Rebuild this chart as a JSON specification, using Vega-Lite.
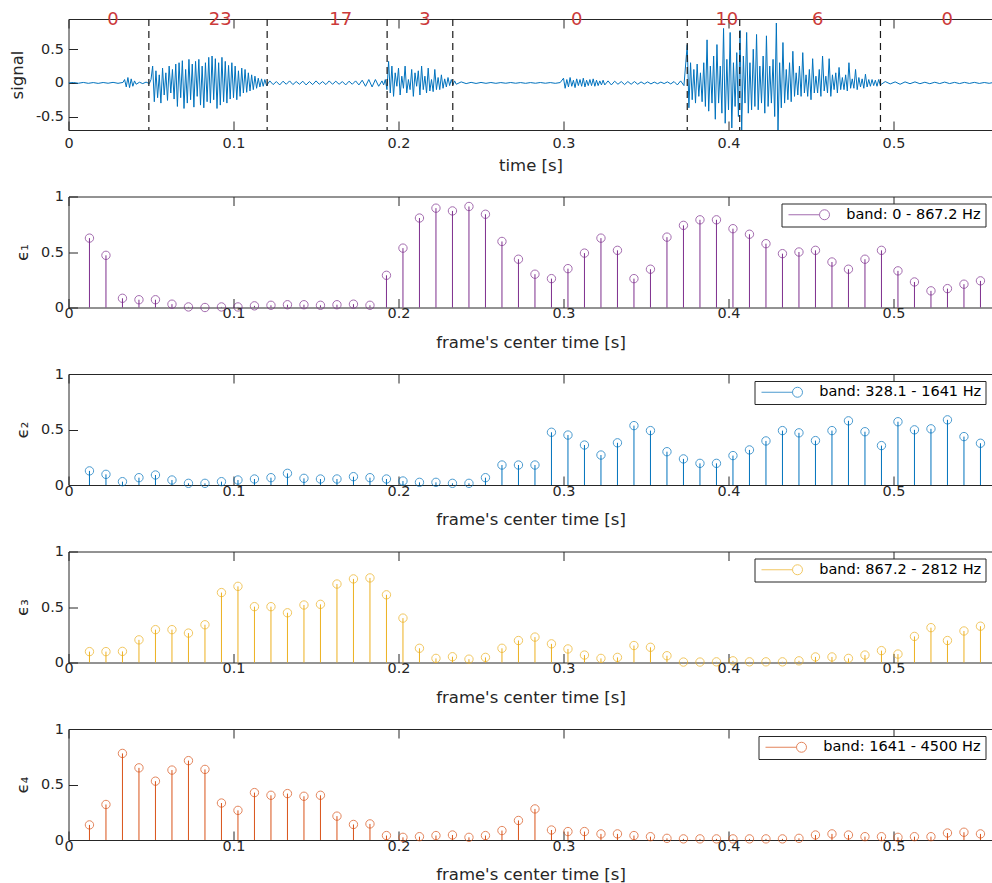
{
"$schema": "https://vega.github.io/schema/vega-lite/v6.json",
"padding": {"left": 8.5, "top": 10, "right": 0, "bottom": 0},
"config": {
 "font": "DejaVu Sans",
 "view": {"stroke": "#262626", "strokeWidth": 1},
 "axis": {"domain": false, "grid": false, "tickSize": -9, "tickColor": "#262626", "tickWidth": 1, "labelColor": "#262626", "labelFontSize": 14.4, "titleFontSize": 16.5, "titleFontWeight": "normal", "titleColor": "#262626", "labelPadding": 14, "labelFont": "DejaVu Sans", "titleFont": "DejaVu Sans"},
 "axisX": {"labelFlush": false},
 "legend": {"labelFont": "DejaVu Sans"}
},
"datasets": {
 "sig": [
{"t":0.000,"v":0.000},{"t":0.003,"v":0.006},{"t":0.006,"v":-0.005},{"t":0.009,"v":0.007},{"t":0.012,"v":-0.006},{"t":0.015,"v":0.005},{"t":0.018,"v":-0.007},{"t":0.021,"v":0.006},{"t":0.024,"v":-0.005},{"t":0.027,"v":0.008},{"t":0.030,"v":-0.006},{"t":0.033,"v":0.007},
{"t":0.034,"v":0.05},{"t":0.035,"v":-0.06},{"t":0.036,"v":0.08},{"t":0.037,"v":-0.07},{"t":0.038,"v":0.06},{"t":0.039,"v":-0.05},{"t":0.040,"v":0.03},{"t":0.041,"v":-0.02},
{"t":0.043,"v":0.01},{"t":0.045,"v":-0.01},{"t":0.047,"v":0.012},{"t":0.049,"v":-0.01},
{"t":0.050,"v":0.05},{"t":0.051,"v":0.25},{"t":0.052,"v":-0.28},{"t":0.053,"v":0.18},{"t":0.054,"v":-0.22},{"t":0.055,"v":0.12},{"t":0.056,"v":-0.30},{"t":0.057,"v":0.22},{"t":0.058,"v":-0.18},{"t":0.059,"v":0.15},
{"t":0.060,"v":-0.26},{"t":0.061,"v":0.25},{"t":0.062,"v":-0.15},{"t":0.063,"v":0.20},{"t":0.064,"v":-0.24},{"t":0.065,"v":0.28},{"t":0.066,"v":-0.35},{"t":0.067,"v":0.30},{"t":0.068,"v":-0.22},{"t":0.069,"v":0.33},
{"t":0.070,"v":-0.38},{"t":0.071,"v":0.20},{"t":0.072,"v":-0.30},{"t":0.073,"v":0.35},{"t":0.074,"v":-0.25},{"t":0.075,"v":0.28},{"t":0.076,"v":-0.36},{"t":0.077,"v":0.32},{"t":0.078,"v":-0.20},{"t":0.079,"v":0.35},
{"t":0.080,"v":-0.33},{"t":0.081,"v":0.25},{"t":0.082,"v":-0.37},{"t":0.083,"v":0.30},{"t":0.084,"v":-0.28},{"t":0.085,"v":0.38},{"t":0.086,"v":-0.30},{"t":0.087,"v":0.40},{"t":0.088,"v":-0.25},{"t":0.089,"v":0.36},
{"t":0.090,"v":-0.38},{"t":0.091,"v":0.30},{"t":0.092,"v":-0.33},{"t":0.093,"v":0.38},{"t":0.094,"v":-0.28},{"t":0.095,"v":0.32},{"t":0.096,"v":-0.30},{"t":0.097,"v":0.26},{"t":0.098,"v":-0.24},{"t":0.099,"v":0.30},
{"t":0.100,"v":-0.22},{"t":0.101,"v":0.25},{"t":0.102,"v":-0.25},{"t":0.103,"v":0.18},{"t":0.104,"v":-0.20},{"t":0.105,"v":0.22},{"t":0.106,"v":-0.15},{"t":0.107,"v":0.20},{"t":0.108,"v":-0.14},{"t":0.109,"v":0.15},
{"t":0.110,"v":-0.12},{"t":0.111,"v":0.12},{"t":0.112,"v":-0.10},{"t":0.113,"v":0.10},{"t":0.114,"v":-0.08},{"t":0.115,"v":0.07},{"t":0.116,"v":-0.06},{"t":0.117,"v":0.06},{"t":0.118,"v":-0.05},{"t":0.119,"v":0.05},{"t":0.120,"v":-0.04},
{"t":0.122,"v":0.03},{"t":0.124,"v":-0.025},{"t":0.126,"v":0.02},{"t":0.128,"v":-0.03},{"t":0.130,"v":0.025},{"t":0.132,"v":-0.02},{"t":0.134,"v":0.03},{"t":0.136,"v":-0.025},{"t":0.138,"v":0.02},{"t":0.140,"v":-0.02},
{"t":0.142,"v":0.025},{"t":0.144,"v":-0.03},{"t":0.146,"v":0.02},{"t":0.148,"v":-0.025},{"t":0.150,"v":0.03},{"t":0.152,"v":-0.02},{"t":0.154,"v":0.02},{"t":0.156,"v":-0.025},{"t":0.158,"v":0.03},{"t":0.160,"v":-0.02},
{"t":0.162,"v":0.025},{"t":0.164,"v":-0.02},{"t":0.166,"v":0.02},{"t":0.168,"v":-0.03},{"t":0.170,"v":0.025},{"t":0.172,"v":-0.02},{"t":0.174,"v":0.03},{"t":0.176,"v":-0.03},{"t":0.178,"v":0.04},{"t":0.180,"v":-0.05},
{"t":0.182,"v":0.05},{"t":0.184,"v":-0.06},{"t":0.186,"v":0.05},{"t":0.188,"v":-0.05},{"t":0.190,"v":0.03},
{"t":0.191,"v":-0.03},{"t":0.192,"v":0.05},{"t":0.193,"v":-0.10},{"t":0.194,"v":0.32},{"t":0.195,"v":-0.15},{"t":0.196,"v":0.25},{"t":0.197,"v":-0.20},{"t":0.198,"v":0.15},{"t":0.199,"v":-0.05},
{"t":0.200,"v":0.22},{"t":0.201,"v":-0.18},{"t":0.202,"v":0.10},{"t":0.203,"v":-0.08},{"t":0.204,"v":0.25},{"t":0.205,"v":-0.15},{"t":0.206,"v":0.05},{"t":0.207,"v":-0.10},{"t":0.208,"v":0.20},{"t":0.209,"v":-0.20},
{"t":0.210,"v":0.15},{"t":0.211,"v":-0.05},{"t":0.212,"v":0.18},{"t":0.213,"v":-0.18},{"t":0.214,"v":0.25},{"t":0.215,"v":-0.10},{"t":0.216,"v":0.10},{"t":0.217,"v":-0.15},{"t":0.218,"v":0.22},{"t":0.219,"v":-0.12},
{"t":0.220,"v":0.05},{"t":0.221,"v":-0.13},{"t":0.222,"v":0.20},{"t":0.223,"v":-0.10},{"t":0.224,"v":0.08},{"t":0.225,"v":-0.10},{"t":0.226,"v":0.12},{"t":0.227,"v":-0.08},{"t":0.228,"v":0.06},{"t":0.229,"v":-0.06},
{"t":0.230,"v":0.08},{"t":0.231,"v":-0.04},{"t":0.232,"v":0.05},{"t":0.233,"v":-0.03},{"t":0.234,"v":0.03},{"t":0.235,"v":-0.02},
{"t":0.238,"v":0.015},{"t":0.241,"v":-0.01},{"t":0.244,"v":0.008},{"t":0.247,"v":-0.008},{"t":0.250,"v":0.007},{"t":0.253,"v":-0.006},{"t":0.256,"v":0.006},{"t":0.259,"v":-0.006},{"t":0.262,"v":0.005},{"t":0.265,"v":-0.005},
{"t":0.268,"v":0.006},{"t":0.271,"v":-0.005},{"t":0.274,"v":0.005},{"t":0.277,"v":-0.006},{"t":0.280,"v":0.005},{"t":0.283,"v":-0.005},{"t":0.286,"v":0.006},{"t":0.289,"v":-0.005},{"t":0.292,"v":0.005},{"t":0.295,"v":-0.006},{"t":0.298,"v":0.005},
{"t":0.300,"v":0.07},{"t":0.301,"v":-0.08},{"t":0.302,"v":0.05},{"t":0.303,"v":-0.06},{"t":0.304,"v":0.08},{"t":0.305,"v":-0.05},{"t":0.306,"v":0.04},{"t":0.307,"v":-0.07},{"t":0.308,"v":0.06},{"t":0.309,"v":-0.04},
{"t":0.310,"v":0.05},{"t":0.311,"v":-0.05},{"t":0.312,"v":0.07},{"t":0.313,"v":-0.06},{"t":0.314,"v":0.04},{"t":0.315,"v":-0.04},{"t":0.316,"v":0.05},{"t":0.317,"v":-0.04},{"t":0.318,"v":0.06},{"t":0.319,"v":-0.05},
{"t":0.320,"v":0.04},{"t":0.321,"v":-0.04},{"t":0.322,"v":0.03},{"t":0.323,"v":-0.03},{"t":0.324,"v":0.04},{"t":0.325,"v":-0.03},
{"t":0.327,"v":0.03},{"t":0.329,"v":-0.03},{"t":0.331,"v":0.025},{"t":0.333,"v":-0.02},{"t":0.335,"v":0.02},{"t":0.337,"v":-0.025},{"t":0.339,"v":0.02},{"t":0.341,"v":-0.02},{"t":0.343,"v":0.02},{"t":0.345,"v":-0.02},
{"t":0.347,"v":0.015},{"t":0.349,"v":-0.015},{"t":0.351,"v":0.015},{"t":0.353,"v":-0.015},{"t":0.355,"v":0.012},{"t":0.357,"v":-0.012},{"t":0.359,"v":0.012},{"t":0.361,"v":-0.01},{"t":0.363,"v":0.015},{"t":0.365,"v":-0.015},
{"t":0.367,"v":0.02},{"t":0.369,"v":-0.03},{"t":0.371,"v":0.03},{"t":0.373,"v":-0.04},
{"t":0.375,"v":0.57},{"t":0.376,"v":-0.37},{"t":0.377,"v":0.30},{"t":0.378,"v":-0.25},{"t":0.379,"v":0.20},{"t":0.380,"v":-0.30},{"t":0.381,"v":0.28},{"t":0.382,"v":-0.20},{"t":0.383,"v":0.15},{"t":0.384,"v":-0.28},
{"t":0.385,"v":0.30},{"t":0.386,"v":-0.35},{"t":0.387,"v":0.64},{"t":0.388,"v":-0.42},{"t":0.389,"v":0.25},{"t":0.390,"v":-0.30},{"t":0.391,"v":0.40},{"t":0.392,"v":-0.54},{"t":0.393,"v":0.57},{"t":0.394,"v":-0.30},
{"t":0.395,"v":0.25},{"t":0.396,"v":-0.45},{"t":0.397,"v":0.81},{"t":0.398,"v":-0.60},{"t":0.399,"v":0.35},{"t":0.400,"v":-0.40},{"t":0.401,"v":0.75},{"t":0.402,"v":-0.67},{"t":0.403,"v":0.30},{"t":0.404,"v":-0.35},
{"t":0.405,"v":0.45},{"t":0.406,"v":-0.50},{"t":0.407,"v":0.78},{"t":0.408,"v":-0.70},{"t":0.409,"v":0.40},{"t":0.410,"v":-0.30},{"t":0.411,"v":0.75},{"t":0.412,"v":-0.45},{"t":0.413,"v":0.30},{"t":0.414,"v":-0.40},
{"t":0.415,"v":0.50},{"t":0.416,"v":-0.35},{"t":0.417,"v":0.72},{"t":0.418,"v":-0.40},{"t":0.419,"v":0.25},{"t":0.420,"v":-0.30},{"t":0.421,"v":0.40},{"t":0.422,"v":-0.45},{"t":0.423,"v":0.70},{"t":0.424,"v":-0.35},
{"t":0.425,"v":0.25},{"t":0.426,"v":-0.30},{"t":0.427,"v":0.35},{"t":0.428,"v":-0.50},{"t":0.429,"v":0.89},{"t":0.430,"v":-0.70},{"t":0.431,"v":0.30},{"t":0.432,"v":-0.37},{"t":0.433,"v":0.60},{"t":0.434,"v":-0.30},
{"t":0.435,"v":0.20},{"t":0.436,"v":-0.25},{"t":0.437,"v":0.30},{"t":0.438,"v":-0.28},{"t":0.439,"v":0.47},{"t":0.440,"v":-0.20},{"t":0.441,"v":0.15},{"t":0.442,"v":-0.18},{"t":0.443,"v":0.25},{"t":0.444,"v":-0.20},
{"t":0.445,"v":0.45},{"t":0.446,"v":-0.15},{"t":0.447,"v":0.12},{"t":0.448,"v":-0.20},{"t":0.449,"v":0.20},{"t":0.450,"v":-0.25},{"t":0.451,"v":0.36},{"t":0.452,"v":-0.15},{"t":0.453,"v":0.10},{"t":0.454,"v":-0.15},
{"t":0.455,"v":0.20},{"t":0.456,"v":-0.20},{"t":0.457,"v":0.40},{"t":0.458,"v":-0.12},{"t":0.459,"v":0.10},{"t":0.460,"v":-0.15},{"t":0.461,"v":0.36},{"t":0.462,"v":-0.20},{"t":0.463,"v":0.12},{"t":0.464,"v":-0.10},
{"t":0.465,"v":0.15},{"t":0.466,"v":-0.15},{"t":0.467,"v":0.23},{"t":0.468,"v":-0.10},{"t":0.469,"v":0.08},{"t":0.470,"v":-0.10},{"t":0.471,"v":0.12},{"t":0.472,"v":-0.12},{"t":0.473,"v":0.30},{"t":0.474,"v":-0.08},
{"t":0.475,"v":0.06},{"t":0.476,"v":-0.08},{"t":0.477,"v":0.20},{"t":0.478,"v":-0.10},{"t":0.479,"v":0.08},{"t":0.480,"v":-0.06},{"t":0.481,"v":0.06},{"t":0.482,"v":-0.08},{"t":0.483,"v":0.13},{"t":0.484,"v":-0.06},
{"t":0.485,"v":0.05},{"t":0.486,"v":-0.05},{"t":0.487,"v":0.05},{"t":0.488,"v":-0.04},{"t":0.489,"v":0.04},{"t":0.490,"v":-0.05},{"t":0.491,"v":0.05},{"t":0.492,"v":-0.03},
{"t":0.495,"v":0.02},{"t":0.498,"v":-0.015},{"t":0.501,"v":0.015},{"t":0.504,"v":-0.02},{"t":0.507,"v":0.015},{"t":0.510,"v":-0.012},{"t":0.513,"v":0.015},{"t":0.516,"v":-0.012},{"t":0.519,"v":0.01},{"t":0.522,"v":-0.012},
{"t":0.525,"v":0.01},{"t":0.528,"v":-0.01},{"t":0.531,"v":0.012},{"t":0.534,"v":-0.01},{"t":0.537,"v":0.008},{"t":0.540,"v":-0.01},{"t":0.543,"v":0.008},{"t":0.546,"v":-0.008},{"t":0.549,"v":0.008},{"t":0.552,"v":-0.008},{"t":0.555,"v":0.006},{"t":0.558,"v":-0.006},{"t":0.560,"v":0.004}
 ],
 "bounds": [{"x":0.0487},{"x":0.1204},{"x":0.1931},{"x":0.2329},{"x":0.375},{"x":0.4068},{"x":0.4921}],
 "segs": [{"x":0.027,"n":"0"},{"x":0.092,"n":"23"},{"x":0.165,"n":"17"},{"x":0.216,"n":"3"},{"x":0.308,"n":"0"},{"x":0.399,"n":"10"},{"x":0.454,"n":"6"},{"x":0.5325,"n":"0"}],
 "stems": [
{"t":0.0127,"a":0.625,"b":0.127,"c":0.098,"d":0.136},
{"t":0.0227,"a":0.47,"b":0.096,"c":0.098,"d":0.32},
{"t":0.0327,"a":0.083,"b":0.03,"c":0.10,"d":0.78},
{"t":0.0427,"a":0.07,"b":0.066,"c":0.204,"d":0.65},
{"t":0.0527,"a":0.07,"b":0.09,"c":0.296,"d":0.53},
{"t":0.0627,"a":0.03,"b":0.045,"c":0.296,"d":0.63},
{"t":0.0727,"a":0.005,"b":0.015,"c":0.265,"d":0.715},
{"t":0.0827,"a":0.0,"b":0.015,"c":0.34,"d":0.636},
{"t":0.0927,"a":0.005,"b":0.03,"c":0.63,"d":0.333},
{"t":0.1027,"a":0.005,"b":0.045,"c":0.686,"d":0.267},
{"t":0.1127,"a":0.015,"b":0.054,"c":0.503,"d":0.427},
{"t":0.1227,"a":0.02,"b":0.066,"c":0.503,"d":0.403},
{"t":0.1327,"a":0.025,"b":0.105,"c":0.448,"d":0.418},
{"t":0.1427,"a":0.025,"b":0.06,"c":0.518,"d":0.394},
{"t":0.1527,"a":0.02,"b":0.054,"c":0.524,"d":0.403},
{"t":0.1627,"a":0.025,"b":0.054,"c":0.707,"d":0.215},
{"t":0.1727,"a":0.03,"b":0.075,"c":0.753,"d":0.14},
{"t":0.1827,"a":0.02,"b":0.066,"c":0.762,"d":0.145},
{"t":0.1927,"a":0.29,"b":0.054,"c":0.61,"d":0.04},
{"t":0.2027,"a":0.535,"b":0.036,"c":0.40,"d":0.024},
{"t":0.2127,"a":0.806,"b":0.024,"c":0.128,"d":0.03},
{"t":0.2227,"a":0.895,"b":0.024,"c":0.037,"d":0.04},
{"t":0.2327,"a":0.87,"b":0.015,"c":0.052,"d":0.045},
{"t":0.2427,"a":0.91,"b":0.015,"c":0.03,"d":0.024},
{"t":0.2527,"a":0.84,"b":0.066,"c":0.046,"d":0.04},
{"t":0.2627,"a":0.595,"b":0.18,"c":0.128,"d":0.085},
{"t":0.2727,"a":0.435,"b":0.18,"c":0.198,"d":0.176},
{"t":0.2827,"a":0.30,"b":0.18,"c":0.229,"d":0.28},
{"t":0.2927,"a":0.26,"b":0.475,"c":0.168,"d":0.09},
{"t":0.3027,"a":0.35,"b":0.45,"c":0.122,"d":0.076},
{"t":0.3127,"a":0.49,"b":0.36,"c":0.067,"d":0.076},
{"t":0.3227,"a":0.625,"b":0.27,"c":0.037,"d":0.055},
{"t":0.3327,"a":0.515,"b":0.38,"c":0.046,"d":0.055},
{"t":0.3427,"a":0.26,"b":0.535,"c":0.153,"d":0.04},
{"t":0.3527,"a":0.345,"b":0.49,"c":0.137,"d":0.03},
{"t":0.3627,"a":0.634,"b":0.30,"c":0.061,"d":0.015},
{"t":0.3727,"a":0.74,"b":0.235,"c":0.004,"d":0.01},
{"t":0.3827,"a":0.79,"b":0.195,"c":0.004,"d":0.01},
{"t":0.3927,"a":0.79,"b":0.195,"c":0.006,"d":0.01},
{"t":0.4027,"a":0.71,"b":0.265,"c":0.015,"d":0.01},
{"t":0.4127,"a":0.66,"b":0.316,"c":0.006,"d":0.01},
{"t":0.4227,"a":0.575,"b":0.397,"c":0.006,"d":0.01},
{"t":0.4327,"a":0.485,"b":0.49,"c":0.006,"d":0.01},
{"t":0.4427,"a":0.50,"b":0.47,"c":0.015,"d":0.015},
{"t":0.4527,"a":0.515,"b":0.40,"c":0.05,"d":0.045},
{"t":0.4627,"a":0.41,"b":0.49,"c":0.05,"d":0.055},
{"t":0.4727,"a":0.345,"b":0.578,"c":0.037,"d":0.045},
{"t":0.4827,"a":0.435,"b":0.48,"c":0.067,"d":0.03},
{"t":0.4927,"a":0.515,"b":0.355,"c":0.107,"d":0.03},
{"t":0.5027,"a":0.33,"b":0.57,"c":0.076,"d":0.024},
{"t":0.5127,"a":0.23,"b":0.497,"c":0.235,"d":0.03},
{"t":0.5227,"a":0.15,"b":0.506,"c":0.314,"d":0.03},
{"t":0.5327,"a":0.17,"b":0.587,"c":0.198,"d":0.063},
{"t":0.5427,"a":0.21,"b":0.436,"c":0.284,"d":0.07},
{"t":0.5527,"a":0.24,"b":0.376,"c":0.327,"d":0.055}
 ]
},
"spacing": 66.5,
"bounds": "flush",
"resolve": {"scale": {"x": "independent", "y": "independent", "color": "independent"}, "legend": {"color": "independent"}},
"vconcat": [
 {
  "width": 924, "height": 111,
  "layer": [
   {"data": {"name": "sig"}, "mark": {"type": "line", "color": "#0072BD", "strokeWidth": 1, "clip": true},
    "encoding": {
     "x": {"field": "t", "type": "quantitative", "scale": {"domain": [0, 0.56], "nice": false, "zero": false},
           "axis": {"title": "time [s]", "values": [0, 0.1, 0.2, 0.3, 0.4, 0.5], "format": "~g", "labelPadding": 15, "titlePadding": 8}},
     "y": {"field": "v", "type": "quantitative", "scale": {"domain": [-0.7, 0.95], "nice": false, "zero": false},
           "axis": {"title": "signal", "values": [-0.5, 0, 0.5], "labelExpr": "datum.value < 0 ? '-' + format(-datum.value, '~g') : format(datum.value, '~g')", "titlePadding": 10}}
    }},
   {"data": {"name": "bounds"}, "mark": {"type": "rule", "color": "#1a1a1a", "strokeWidth": 1.2, "strokeDash": [7, 5]},
    "encoding": {
     "x": {"field": "x", "type": "quantitative", "axis": {"orient": "top", "labels": false, "title": null, "values": [0, 0.1, 0.2, 0.3, 0.4, 0.5]}}
    }},
   {"data": {"name": "segs"}, "mark": {"type": "text", "color": "#cc3a3a", "fontSize": 18, "baseline": "middle", "dy": 1},
    "encoding": {
     "x": {"field": "x", "type": "quantitative", "axis": null},
     "y": {"datum": 0.95, "type": "quantitative"},
     "text": {"field": "n"}
    }}
  ],
  "resolve": {"axis": {"x": "independent"}}
 },
 {
  "width": 924, "height": 111,
  "data": {"name": "stems"},
  "layer": [
   {"mark": {"type": "rule", "strokeWidth": 1},
    "encoding": {
     "x": {"field": "t", "type": "quantitative", "scale": {"domain": [0, 0.56], "nice": false, "zero": false},
           "axis": {"title": "frame's center time [s]", "values": [0, 0.1, 0.2, 0.3, 0.4, 0.5], "format": "~g", "labelPadding": 8, "titlePadding": 14.5}},
     "y": {"field": "a", "type": "quantitative", "scale": {"domain": [0, 1], "nice": false, "zero": false},
           "axis": {"title": "ϵ₁", "values": [0, 0.5, 1], "format": "~g", "titlePadding": 10}},
     "y2": {"datum": 0},
     "color": {"datum": "band: 0 - 867.2 Hz", "scale": {"range": ["#7E2F8E"]},
       "legend": {"orient": "top-right", "offset": 7, "title": null, "padding": 4, "strokeColor": "#262626", "fillColor": "white", "labelFontSize": 14.5, "labelColor": "#000", "labelLimit": 400, "symbolType": "M-7.2,0L-1,0M1,0A1,1,0,1,1,-1,0A1,1,0,1,1,1,0", "symbolSize": 100, "symbolOffset": 31.75, "symbolStrokeWidth": 1, "symbolFillColor": "transparent", "labelOffset": 14.5}}
    }},
   {"mark": {"type": "point", "shape": "circle", "filled": false, "size": 70, "strokeWidth": 1},
    "encoding": {
     "x": {"field": "t", "type": "quantitative", "axis": {"orient": "top", "labels": false, "title": null, "values": [0, 0.1, 0.2, 0.3, 0.4, 0.5]}},
     "y": {"field": "a", "type": "quantitative"},
     "color": {"datum": "band: 0 - 867.2 Hz"}
    }}
  ],
  "resolve": {"axis": {"x": "independent"}}
 },
 {
  "width": 924, "height": 111,
  "data": {"name": "stems"},
  "layer": [
   {"mark": {"type": "rule", "strokeWidth": 1},
    "encoding": {
     "x": {"field": "t", "type": "quantitative", "scale": {"domain": [0, 0.56], "nice": false, "zero": false},
           "axis": {"title": "frame's center time [s]", "values": [0, 0.1, 0.2, 0.3, 0.4, 0.5], "format": "~g", "labelPadding": 8, "titlePadding": 14.5}},
     "y": {"field": "b", "type": "quantitative", "scale": {"domain": [0, 1], "nice": false, "zero": false},
           "axis": {"title": "ϵ₂", "values": [0, 0.5, 1], "format": "~g", "titlePadding": 10}},
     "y2": {"datum": 0},
     "color": {"datum": "band: 328.1 - 1641 Hz", "scale": {"range": ["#0072BD"]},
       "legend": {"orient": "top-right", "offset": 7, "title": null, "padding": 4, "strokeColor": "#262626", "fillColor": "white", "labelFontSize": 14.5, "labelColor": "#000", "labelLimit": 400, "symbolType": "M-7.2,0L-1,0M1,0A1,1,0,1,1,-1,0A1,1,0,1,1,1,0", "symbolSize": 100, "symbolOffset": 31.75, "symbolStrokeWidth": 1, "symbolFillColor": "transparent", "labelOffset": 14.5}}
    }},
   {"mark": {"type": "point", "shape": "circle", "filled": false, "size": 70, "strokeWidth": 1},
    "encoding": {
     "x": {"field": "t", "type": "quantitative", "axis": {"orient": "top", "labels": false, "title": null, "values": [0, 0.1, 0.2, 0.3, 0.4, 0.5]}},
     "y": {"field": "b", "type": "quantitative"},
     "color": {"datum": "band: 328.1 - 1641 Hz"}
    }}
  ],
  "resolve": {"axis": {"x": "independent"}}
 },
 {
  "width": 924, "height": 111,
  "data": {"name": "stems"},
  "layer": [
   {"mark": {"type": "rule", "strokeWidth": 1},
    "encoding": {
     "x": {"field": "t", "type": "quantitative", "scale": {"domain": [0, 0.56], "nice": false, "zero": false},
           "axis": {"title": "frame's center time [s]", "values": [0, 0.1, 0.2, 0.3, 0.4, 0.5], "format": "~g", "labelPadding": 8, "titlePadding": 14.5}},
     "y": {"field": "c", "type": "quantitative", "scale": {"domain": [0, 1], "nice": false, "zero": false},
           "axis": {"title": "ϵ₃", "values": [0, 0.5, 1], "format": "~g", "titlePadding": 10}},
     "y2": {"datum": 0},
     "color": {"datum": "band: 867.2 - 2812 Hz", "scale": {"range": ["#EDB120"]},
       "legend": {"orient": "top-right", "offset": 7, "title": null, "padding": 4, "strokeColor": "#262626", "fillColor": "white", "labelFontSize": 14.5, "labelColor": "#000", "labelLimit": 400, "symbolType": "M-7.2,0L-1,0M1,0A1,1,0,1,1,-1,0A1,1,0,1,1,1,0", "symbolSize": 100, "symbolOffset": 31.75, "symbolStrokeWidth": 1, "symbolFillColor": "transparent", "labelOffset": 14.5}}
    }},
   {"mark": {"type": "point", "shape": "circle", "filled": false, "size": 70, "strokeWidth": 1},
    "encoding": {
     "x": {"field": "t", "type": "quantitative", "axis": {"orient": "top", "labels": false, "title": null, "values": [0, 0.1, 0.2, 0.3, 0.4, 0.5]}},
     "y": {"field": "c", "type": "quantitative"},
     "color": {"datum": "band: 867.2 - 2812 Hz"}
    }}
  ],
  "resolve": {"axis": {"x": "independent"}}
 },
 {
  "width": 924, "height": 111,
  "data": {"name": "stems"},
  "layer": [
   {"mark": {"type": "rule", "strokeWidth": 1},
    "encoding": {
     "x": {"field": "t", "type": "quantitative", "scale": {"domain": [0, 0.56], "nice": false, "zero": false},
           "axis": {"title": "frame's center time [s]", "values": [0, 0.1, 0.2, 0.3, 0.4, 0.5], "format": "~g", "labelPadding": 8, "titlePadding": 14.5}},
     "y": {"field": "d", "type": "quantitative", "scale": {"domain": [0, 1], "nice": false, "zero": false},
           "axis": {"title": "ϵ₄", "values": [0, 0.5, 1], "format": "~g", "titlePadding": 10}},
     "y2": {"datum": 0},
     "color": {"datum": "band: 1641 - 4500 Hz", "scale": {"range": ["#D95319"]},
       "legend": {"orient": "top-right", "offset": 7, "title": null, "padding": 4, "strokeColor": "#262626", "fillColor": "white", "labelFontSize": 14.5, "labelColor": "#000", "labelLimit": 400, "symbolType": "M-7.2,0L-1,0M1,0A1,1,0,1,1,-1,0A1,1,0,1,1,1,0", "symbolSize": 100, "symbolOffset": 31.75, "symbolStrokeWidth": 1, "symbolFillColor": "transparent", "labelOffset": 14.5}}
    }},
   {"mark": {"type": "point", "shape": "circle", "filled": false, "size": 70, "strokeWidth": 1},
    "encoding": {
     "x": {"field": "t", "type": "quantitative", "axis": {"orient": "top", "labels": false, "title": null, "values": [0, 0.1, 0.2, 0.3, 0.4, 0.5]}},
     "y": {"field": "d", "type": "quantitative"},
     "color": {"datum": "band: 1641 - 4500 Hz"}
    }}
  ],
  "resolve": {"axis": {"x": "independent"}}
 }
]
}
